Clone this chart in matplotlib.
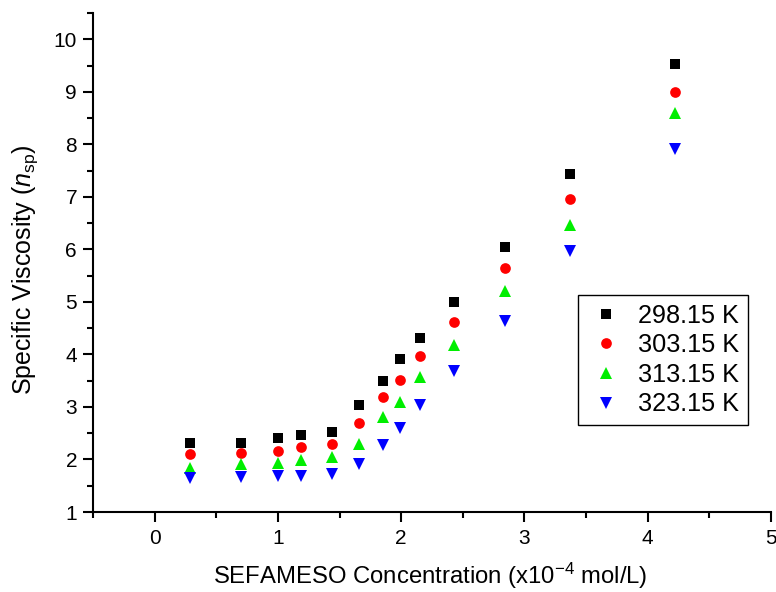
import matplotlib
matplotlib.use("Agg")
import matplotlib.pyplot as plt
from matplotlib.ticker import MultipleLocator

plt.rcParams['font.family'] = ['Liberation Sans', 'DejaVu Sans']
plt.rcParams['mathtext.fontset'] = 'custom'
plt.rcParams['mathtext.rm'] = 'Liberation Sans'
plt.rcParams['mathtext.it'] = 'Liberation Sans:italic'

conc = [0.29, 0.70, 1.00, 1.19, 1.44, 1.655, 1.85, 1.99, 2.15, 2.43, 2.84, 3.37, 4.22]
visc_298 = [2.31, 2.31, 2.40, 2.46, 2.53, 3.04, 3.50, 3.91, 4.32, 4.99, 6.04, 7.43, 9.52]
visc_303 = [2.10, 2.13, 2.17, 2.23, 2.29, 2.69, 3.18, 3.51, 3.97, 4.61, 5.65, 6.96, 8.99]
visc_313 = [1.84, 1.91, 1.93, 1.99, 2.05, 2.30, 2.80, 3.10, 3.57, 4.17, 5.20, 6.47, 8.60]
visc_323 = [1.65, 1.67, 1.68, 1.69, 1.73, 1.92, 2.27, 2.59, 3.03, 3.69, 4.64, 5.97, 7.91]
labels = ['298.15 K', '303.15 K', '313.15 K', '323.15 K']

fig = plt.figure(figsize=(7.76, 5.92), dpi=100)
ax = fig.add_axes([93/776, 80/592, (771-93)/776, (512-13)/592])

styles = [
    (visc_298, 's', 'black', 6.5),
    (visc_303, 'o', 'red', 7.7),
    (visc_313, '^', '#00ee00', 9.0),
    (visc_323, 'v', 'blue', 9.0),
]
for (vals, m, c, ms), lab in zip(styles, labels):
    ax.plot(conc, vals, linestyle='none', marker=m, color=c, markersize=ms,
            markeredgewidth=0, label=lab)

ax.set_xlim(-0.5, 5)
ax.set_ylim(1, 10.5)
ax.xaxis.set_major_locator(MultipleLocator(1))
ax.xaxis.set_minor_locator(MultipleLocator(0.5))
ax.yaxis.set_major_locator(MultipleLocator(1))
ax.yaxis.set_minor_locator(MultipleLocator(0.5))

for s in ['top', 'right']:
    ax.spines[s].set_visible(False)
for s in ['left', 'bottom']:
    ax.spines[s].set_linewidth(1.5)

ax.tick_params(which='major', direction='out', length=7.5, width=1.5, labelsize=15)
ax.tick_params(axis='x', which='major', pad=5)
ax.tick_params(axis='y', which='major', pad=4)
ax.tick_params(which='minor', direction='out', length=4.5, width=1.5)

ax.set_xlabel(r'SEFAMESO Concentration (x10$^{-4}$ mol/L)', fontsize=17.2)
ax.set_ylabel(r'Specific Viscosity ($\mathit{n}_{\mathrm{sp}}$)', fontsize=18)
ax.xaxis.set_label_coords(0.498, -0.097)
ax.yaxis.set_label_coords(-0.078, 0.485)

leg = ax.legend(loc='upper left', bbox_to_anchor=(0.715, 0.435), fontsize=18.2,
                frameon=True, fancybox=False, edgecolor='black', framealpha=1,
                borderpad=0.35, labelspacing=0.22, handletextpad=0.55, handlelength=1.5,
                borderaxespad=0)
leg.get_frame().set_linewidth(1.0)

fig.savefig('out.png', dpi=100)
